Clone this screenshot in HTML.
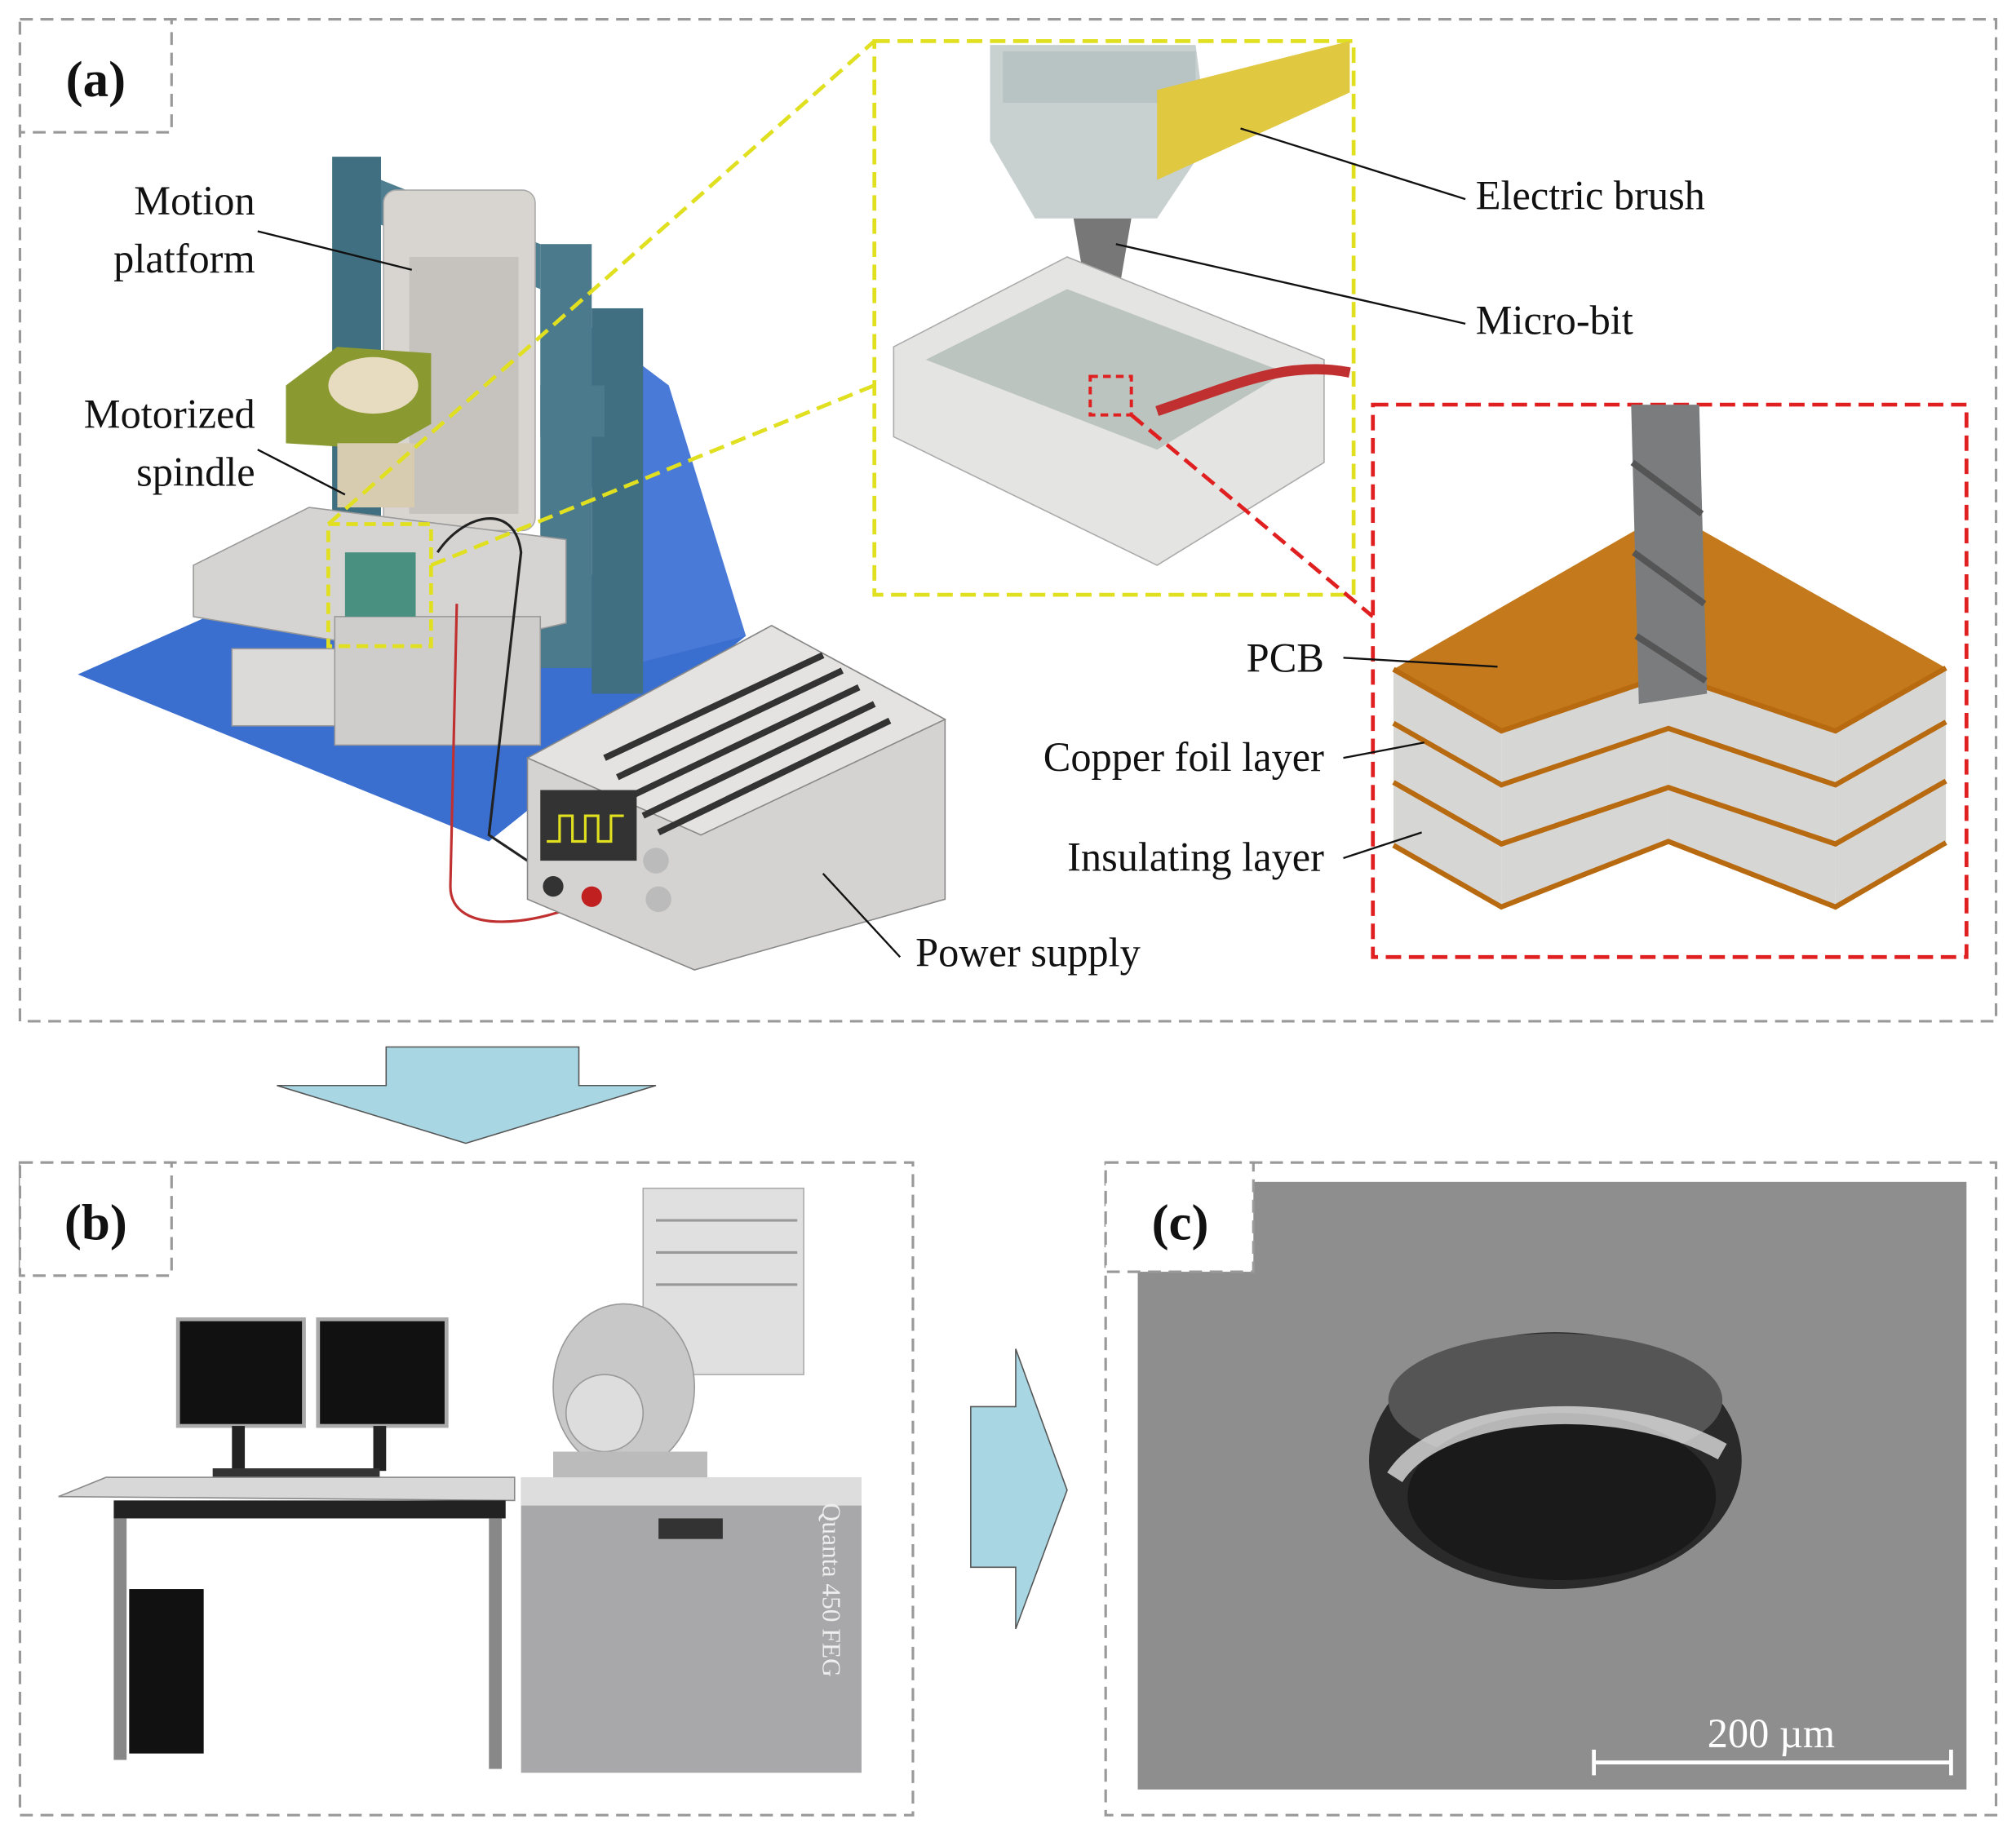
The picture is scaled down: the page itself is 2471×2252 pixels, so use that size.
<!DOCTYPE html>
<html><head><meta charset="utf-8"><style>
html,body{margin:0;padding:0;background:#fff;}
svg{display:block;}
text{font-family:"Liberation Serif",serif;fill:#111;}
</style></head><body>
<svg width="2471" height="2252" viewBox="0 0 1568 1430" xmlns="http://www.w3.org/2000/svg">
<rect width="1568" height="1430" fill="#fff"/>
<!-- panel a -->
<rect x="15" y="15" width="1538" height="780" fill="none" stroke="#999" stroke-width="2" stroke-dasharray="10,6"/>
<rect x="15" y="15" width="118" height="88" fill="#fff" stroke="#999" stroke-width="2" stroke-dasharray="10,6"/>
<text x="74" y="75" font-size="40" font-weight="bold" text-anchor="middle">(a)</text>

<!-- floor -->
<polygon points="60,525 340,400 580,495 380,655" fill="#3a6fd0"/>
<polygon points="440,240 520,300 580,495 480,520" fill="#4a7ad8"/>
<!-- frame -->
<rect x="258" y="122" width="38" height="315" fill="#3f6f80"/>
<polygon points="296,140 420,190 420,225 296,175" fill="#4f7e90"/>
<rect x="420" y="190" width="40" height="330" fill="#4a7a8c"/>
<rect x="460" y="240" width="40" height="300" fill="#3f6f80"/>
<rect x="420" y="300" width="50" height="40" fill="#4a7a8c"/>
<!-- motion platform column -->
<rect x="298" y="148" width="118" height="265" rx="10" fill="#d8d4d0" stroke="#aaa"/>
<rect x="318" y="200" width="85" height="200" fill="#c6c2be"/>
<!-- spindle -->
<polygon points="222,300 262,270 335,275 335,330 300,350 222,345" fill="#8a9a30"/>
<ellipse cx="290" cy="300" rx="35" ry="22" fill="#e8dcc0"/>
<rect x="262" y="345" width="60" height="50" fill="#d8ccb0"/>
<!-- table -->
<polygon points="150,440 240,395 440,420 440,485 330,510 150,480" fill="#d6d4d2" stroke="#999"/>
<rect x="180" y="505" width="140" height="60" fill="#dcdad8" stroke="#999"/>
<rect x="260" y="480" width="160" height="100" fill="#cfcdcb" stroke="#999"/>
<rect x="255" y="408" width="80" height="95" fill="none" stroke="#e0e020" stroke-width="3" stroke-dasharray="9,5"/>
<rect x="268" y="430" width="55" height="50" fill="#4a9080"/>
<!-- wires -->
<path d="M340,430 C360,400 400,390 405,430 L380,650 L440,690" fill="none" stroke="#222" stroke-width="2"/>
<path d="M355,470 L350,690 C350,730 420,720 460,700" fill="none" stroke="#c03030" stroke-width="2"/>
<!-- power supply -->
<polygon points="410,590 600,487 735,560 735,700 540,755 410,700" fill="#d4d3d1" stroke="#888"/>
<polygon points="410,590 600,487 735,560 545,650" fill="#e4e3e1" stroke="#888"/>
<g stroke="#333" stroke-width="5">
<line x1="470" y1="590" x2="640" y2="510"/><line x1="480" y1="605" x2="655" y2="522"/>
<line x1="490" y1="620" x2="668" y2="535"/><line x1="500" y1="635" x2="680" y2="548"/>
<line x1="512" y1="648" x2="692" y2="561"/>
</g>
<rect x="420" y="615" width="75" height="55" fill="#333"/>
<path d="M425,655 h10 v-20 h10 v20 h10 v-20 h10 v20 h10 v-20 h10" fill="none" stroke="#e0e020" stroke-width="2"/>
<circle cx="430" cy="690" r="8" fill="#333"/><circle cx="460" cy="698" r="8" fill="#c02020"/>
<circle cx="510" cy="670" r="10" fill="#bbb"/><circle cx="512" cy="700" r="10" fill="#bbb"/>

<!-- yellow connector lines -->
<line x1="255" y1="408" x2="680" y2="32" stroke="#e0e020" stroke-width="3" stroke-dasharray="12,6"/>
<line x1="335" y1="440" x2="680" y2="300" stroke="#e0e020" stroke-width="3" stroke-dasharray="12,6"/>
<!-- yellow inset -->
<rect x="680" y="32" width="373" height="431" fill="#fff" stroke="#e0e020" stroke-width="3" stroke-dasharray="12,6"/>
<polygon points="770,35 930,35 940,110 900,170 805,170 770,110" fill="#c8d0d0"/>
<rect x="780" y="40" width="150" height="40" fill="#b8c4c4"/>
<polygon points="900,70 1050,32 1050,72 900,140" fill="#e0c840"/>
<polygon points="835,170 880,170 868,240 847,240" fill="#777"/>
<line x1="858" y1="240" x2="858" y2="310" stroke="#555" stroke-width="4"/>
<polygon points="695,270 830,200 1030,280 1030,360 900,440 695,340" fill="#e4e4e2" stroke="#aaa"/>
<polygon points="720,280 830,225 1000,290 900,350" fill="#bcc4c0"/>
<path d="M900,320 C960,300 1000,280 1050,290" stroke="#c03030" stroke-width="8" fill="none"/>
<rect x="848" y="293" width="32" height="30" fill="none" stroke="#e02020" stroke-width="2.5" stroke-dasharray="6,4"/>
<line x1="880" y1="323" x2="1068" y2="480" stroke="#e02020" stroke-width="3" stroke-dasharray="12,6"/>
<!-- red inset -->
<rect x="1068" y="315" width="462" height="430" fill="#fff" stroke="#e02020" stroke-width="3" stroke-dasharray="12,6"/>
<g fill="#d6d6d4" stroke="none">
<polygon points="1084,521 1168,569 1168,706 1084,658"/>
<polygon points="1168,569 1298,525 1298,655 1168,706"/>
<polygon points="1298,525 1428,569 1428,706 1298,655"/>
<polygon points="1428,569 1514,520 1514,656 1428,706"/>
</g>
<polygon points="1084,521 1298,398 1514,520 1428,569 1298,525 1168,569" fill="#c47a1c"/>
<g stroke="#b86a10" stroke-width="4" fill="none">
<polyline points="1084,521 1168,569 1298,525 1428,569 1514,520"/>
<polyline points="1084,563 1168,611 1298,567 1428,611 1514,562"/>
<polyline points="1084,609 1168,657 1298,613 1428,657 1514,608"/>
<polyline points="1084,658 1168,706 1298,655 1428,706 1514,656"/>
</g>
<polygon points="1269,315 1322,315 1328,540 1275,548" fill="#7a7c7e"/>
<path d="M1270,360 L1324,400 M1271,430 L1326,470 M1273,495 L1327,530" stroke="#555" stroke-width="5"/>

<!-- labels a -->
<g font-size="32">
<text x="198" y="167" text-anchor="end">Motion</text>
<text x="198" y="212" text-anchor="end">platform</text>
<text x="198" y="333" text-anchor="end">Motorized</text>
<text x="198" y="378" text-anchor="end">spindle</text>
<text x="1148" y="163">Electric brush</text>
<text x="1148" y="260">Micro-bit</text>
<text x="1030" y="523" text-anchor="end">PCB</text>
<text x="1030" y="600" text-anchor="end">Copper foil layer</text>
<text x="1030" y="678" text-anchor="end">Insulating layer</text>
<text x="712" y="752">Power supply</text>
</g>
<g stroke="#111" stroke-width="1.5">
<line x1="200" y1="180" x2="320" y2="210"/>
<line x1="200" y1="350" x2="268" y2="385"/>
<line x1="1140" y1="155" x2="965" y2="100"/>
<line x1="1140" y1="252" x2="868" y2="190"/>
<line x1="1045" y1="512" x2="1165" y2="519"/>
<line x1="1045" y1="590" x2="1108" y2="578"/>
<line x1="1045" y1="668" x2="1106" y2="648"/>
<line x1="700" y1="745" x2="640" y2="680"/>
</g>

<!-- arrows -->
<polygon points="300,815 450,815 450,845 510,845 362,890 215,845 300,845" fill="#a8d6e2" stroke="#555" stroke-width="1"/>
<polygon points="755,1095 790,1095 790,1050 830,1160 790,1268 790,1220 755,1220" fill="#a8d6e2" stroke="#555" stroke-width="1"/>

<!-- panel b -->
<rect x="15" y="905" width="695" height="508" fill="none" stroke="#999" stroke-width="2" stroke-dasharray="10,6"/>
<rect x="15" y="905" width="118" height="88" fill="#fff" stroke="#999" stroke-width="2" stroke-dasharray="10,6"/>
<text x="74" y="965" font-size="40" font-weight="bold" text-anchor="middle">(b)</text>
<rect x="138" y="1027" width="98" height="83" fill="#111" stroke="#aaa" stroke-width="3"/>
<rect x="247" y="1027" width="100" height="83" fill="#111" stroke="#aaa" stroke-width="3"/>
<rect x="180" y="1110" width="10" height="35" fill="#222"/><rect x="290" y="1110" width="10" height="35" fill="#222"/>
<rect x="165" y="1143" width="130" height="10" fill="#333"/>
<polygon points="45,1165 82,1150 400,1150 400,1168" fill="#d8d8d8" stroke="#888"/>
<rect x="88" y="1168" width="305" height="14" fill="#222"/>
<rect x="88" y="1182" width="10" height="188" fill="#888"/><rect x="380" y="1182" width="10" height="195" fill="#888"/>
<rect x="100" y="1237" width="58" height="128" fill="#111"/>
<rect x="405" y="1150" width="265" height="230" fill="#a8a8aa"/>
<rect x="405" y="1150" width="265" height="22" fill="#ddd"/>
<rect x="512" y="1182" width="50" height="16" fill="#333"/>
<rect x="500" y="925" width="125" height="145" fill="#e0e0e0" stroke="#aaa"/>
<g stroke="#999" stroke-width="2"><line x1="510" y1="950" x2="620" y2="950"/><line x1="510" y1="975" x2="620" y2="975"/><line x1="510" y1="1000" x2="620" y2="1000"/></g>
<ellipse cx="485" cy="1080" rx="55" ry="65" fill="#c8c8c8" stroke="#999"/>
<ellipse cx="470" cy="1100" rx="30" ry="30" fill="#ddd" stroke="#999"/>
<rect x="430" y="1130" width="120" height="20" fill="#bbb"/>
<text x="640" y="1170" font-size="20" transform="rotate(90 640 1170)" style="fill:#eee">Quanta 450 FEG</text>

<!-- panel c -->
<rect x="860" y="905" width="693" height="508" fill="none" stroke="#999" stroke-width="2" stroke-dasharray="10,6"/>
<rect x="885" y="920" width="645" height="473" fill="#8e8e8e"/>
<rect x="860" y="905" width="115" height="85" fill="#fff" stroke="#999" stroke-width="2" stroke-dasharray="10,6"/>
<text x="918" y="965" font-size="40" font-weight="bold" text-anchor="middle">(c)</text>
<ellipse cx="1210" cy="1137" rx="145" ry="100" fill="#2a2a2a"/>
<ellipse cx="1210" cy="1090" rx="130" ry="52" fill="#555"/>
<ellipse cx="1215" cy="1165" rx="120" ry="65" fill="#1a1a1a"/>
<path d="M1085,1150 C1120,1095 1260,1085 1340,1130" stroke="#ddd" stroke-width="14" fill="none" opacity="0.8"/>
<line x1="1240" y1="1372" x2="1518" y2="1372" stroke="#fff" stroke-width="3"/>
<line x1="1240" y1="1362" x2="1240" y2="1382" stroke="#fff" stroke-width="3"/>
<line x1="1518" y1="1362" x2="1518" y2="1382" stroke="#fff" stroke-width="3"/>
<text x="1378" y="1360" font-size="32" text-anchor="middle" style="fill:#fff">200 µm</text>
</svg>
</body></html>
